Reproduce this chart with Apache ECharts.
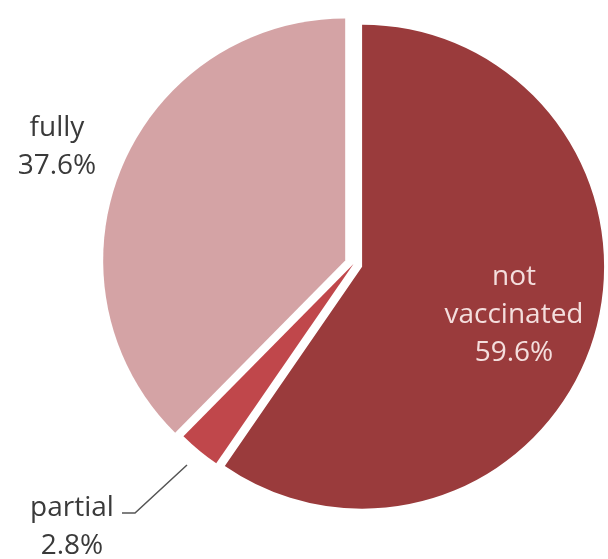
<!DOCTYPE html>
<html>
<head>
<meta charset="utf-8">
<script src="https://cdn.jsdelivr.net/npm/echarts@6/dist/echarts.min.js"></script>
<style>
html,body{margin:0;padding:0;background:#fff;}
#chart{width:608px;height:559px;}
</style>
</head>
<body>
<div id="chart"></div>
<script>
const categories = ['not\nvaccinated', 'partial', 'fully'];
const values = [59.6, 2.8, 37.6];
const colors = ['#9a3b3c', '#c0474b', '#d4a3a5'];
const explode = [9, 0, 9];           // px offset of each slice from centre
const labelColors = ['#f4dedd', '#3a3a3a', '#3a3a3a'];

const base = [353.5, 264];
const R = 242;
const labelPos = [
  {x: 514, y: 315},
  {x: 72, y: 527, line: [[187, 465], [135, 513], [122, 513]]},
  {x: 57, y: 147}
];

const total = values.reduce((a, b) => a + b, 0);
let acc = 0;
const series = categories.map((cat, k) => {
  const mid = (acc + values[k] / 2) / total * 2 * Math.PI;
  acc += values[k];
  const cx = base[0] + explode[k] * Math.sin(mid);
  const cy = base[1] - explode[k] * Math.cos(mid);
  return {
    type: 'pie',
    center: [cx, cy],
    radius: R,
    startAngle: 90,
    clockwise: true,
    silent: true,
    data: categories.map((c, i) => ({
      name: c,
      value: values[i],
      itemStyle: {color: i === k ? colors[i] : 'rgba(0,0,0,0)'},
      label: {show: i === k, color: labelColors[i]},
      labelLine: {show: i === k && i === 1}
    })),
    label: {
      position: 'outside',
      fontFamily: 'Open Sans',
      fontSize: 28,
      lineHeight: 38,
      overflow: 'none',
      formatter: p => p.name + '\n' + p.value.toFixed(1) + '%'
    },
    labelLine: {lineStyle: {color: '#555', width: 1.5}},
    labelLayout: function (params) {
      const lp = labelPos[params.dataIndex];
      const o = {x: lp.x, y: lp.y, align: 'center', verticalAlign: 'middle'};
      if (lp.line) o.labelLinePoints = lp.line;
      return o;
    }
  };
});

const chart = echarts.init(document.getElementById('chart'));
chart.setOption({animation: false, series: series});
</script>
</body>
</html>
